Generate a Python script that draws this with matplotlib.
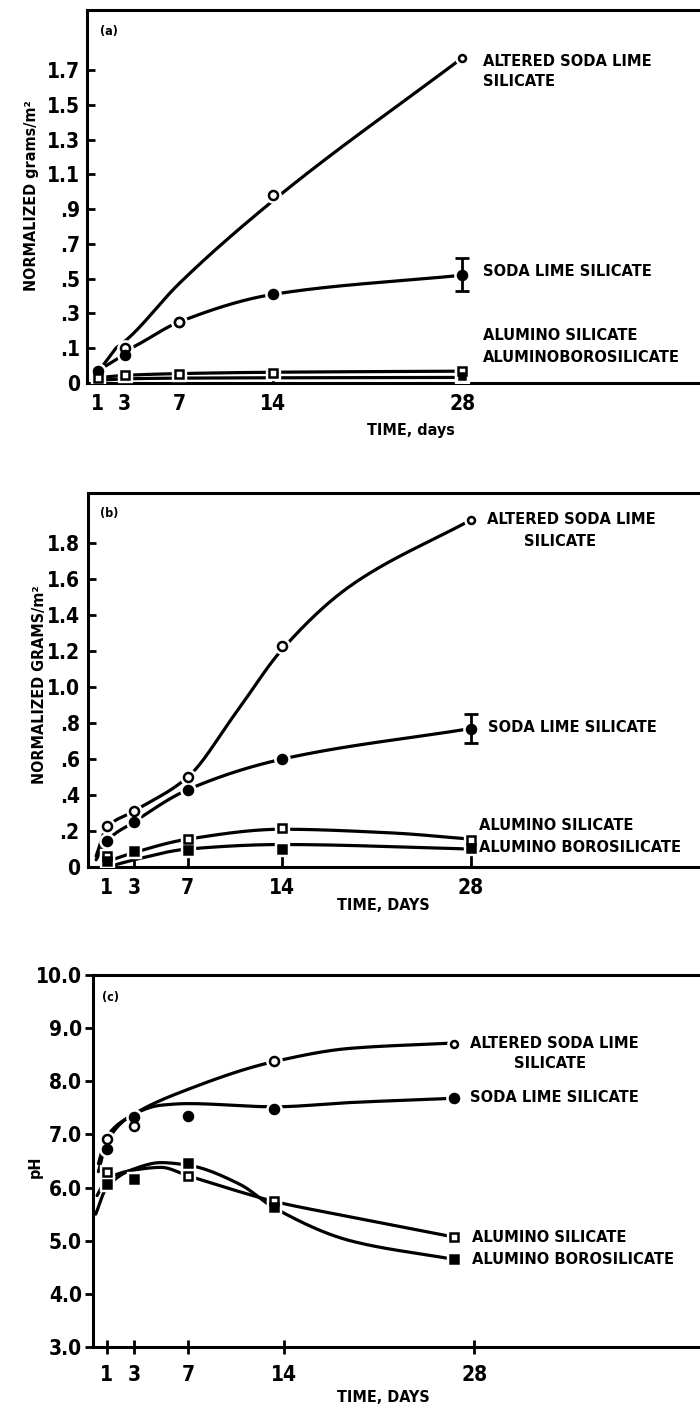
import numpy as np
import matplotlib
matplotlib.use("Agg")
import matplotlib.pyplot as plt
import matplotlib.font_manager as fm
from matplotlib.font_manager import FontProperties

# ---------------- data: panel (a) ----------------
days_a = [1, 3, 7, 14, 28]
altered_a = [np.nan, 0.10, 0.25, 0.98, 1.77]
soda_a = [0.035, 0.08, 0.25, 0.41, 0.52]
soda_a_err = [0.09, 0.10]
alsil_a = [0.015, 0.022, 0.025, 0.028, 0.035]
alboro_a = [np.nan, np.nan, np.nan, np.nan, 0.02]
altered_a_fit_x = [1, 3, 7, 14, 28]
altered_a_fit_y = [0.03, 0.14, 0.47, 0.95, 1.77]
soda_a_fit_x = [1, 3, 7, 14, 28]
soda_a_fit_y = [0.035, 0.085, 0.25, 0.41, 0.52]
alsil_a_fit_x = [1, 3, 7, 14, 28]
alsil_a_fit_y = [0.015, 0.022, 0.027, 0.031, 0.034]
alboro_a_fit_x = [1, 3, 7, 14, 28]
alboro_a_fit_y = [0.008, 0.012, 0.014, 0.015, 0.016]
yticks_a = [0, 0.1, 0.3, 0.5, 0.7, 0.9, 1.1, 1.3, 1.5, 1.7]
ylabels_a = ["0", ".1", ".3", ".5", ".7", ".9", "1.1", "1.3", "1.5", "1.7"]

# ---------------- data: panel (b) ----------------
days_b = [1, 3, 7, 14, 28]
altered_b = [0.23, 0.31, 0.50, 1.23, 1.93]
soda_b = [0.145, 0.25, 0.43, 0.60, 0.77]
soda_b_err = [0.08, 0.08]
alsil_b = [0.06, np.nan, 0.155, 0.215, 0.15]
alboro_b = [0.035, 0.09, 0.095, 0.10, 0.105]
altered_b_fit_x = [0.2, 1, 3, 7, 10.5, 14, 19, 28]
altered_b_fit_y = [0.06, 0.22, 0.31, 0.50, 0.85, 1.21, 1.56, 1.93]
soda_b_fit_x = [0.2, 1, 3, 7, 14, 28]
soda_b_fit_y = [0.04, 0.145, 0.25, 0.43, 0.60, 0.77]
alsil_b_fit_x = [1, 3, 7, 14, 22, 28]
alsil_b_fit_y = [0.03, 0.08, 0.155, 0.21, 0.19, 0.155]
alboro_b_fit_x = [1, 3, 7, 14, 28]
alboro_b_fit_y = [0.0, 0.04, 0.10, 0.125, 0.10]
yticks_b = [0, 0.2, 0.4, 0.6, 0.8, 1.0, 1.2, 1.4, 1.6, 1.8]
ylabels_b = ["0", ".2", ".4", ".6", ".8", "1.0", "1.2", "1.4", "1.6", "1.8"]

# ---------------- data: panel (c) ----------------
days_c = [1, 3, 7, 13.3, 26.5]
altered_c = [6.91, 7.15, np.nan, 8.38, 8.71]
soda_c = [6.72, 7.32, 7.34, 7.47, 7.68]
alsil_c = [6.29, np.nan, 6.21, 5.74, 5.07]
alboro_c = [6.06, 6.17, 6.47, 5.63, 4.65]
altered_c_fit_x = [0.4, 1, 3, 7, 13.3, 18.9, 26.5]
altered_c_fit_y = [6.45, 6.95, 7.38, 7.85, 8.37, 8.62, 8.72]
soda_c_fit_x = [0.4, 1, 3, 5, 7, 13.3, 18.9, 26.5]
soda_c_fit_y = [6.3, 6.85, 7.38, 7.55, 7.58, 7.52, 7.6, 7.68]
alsil_c_fit_x = [0.3, 1, 3, 5, 7, 10.8, 13.3, 18.9, 26.5]
alsil_c_fit_y = [5.85, 6.15, 6.33, 6.38, 6.22, 5.92, 5.74, 5.45, 5.07]
alboro_c_fit_x = [0.2, 1, 3, 5, 7, 10.8, 13.3, 18.9, 26.5]
alboro_c_fit_y = [5.5, 6.0, 6.35, 6.47, 6.42, 6.06, 5.62, 5.0, 4.65]
yticks_c = [3, 4, 5, 6, 7, 8, 9, 10]
ylabels_c = ["3.0", "4.0", "5.0", "6.0", "7.0", "8.0", "9.0", "10.0"]

xticks = [1, 3, 7, 14, 28]
xlabels = ["1", "3", "7", "14", "28"]


# ---------------- font: look for a narrow bold face ----------------
def find_narrow():
    best = None
    for f in fm.fontManager.ttflist:
        name = f.name.lower()
        fnl = f.fname.lower()
        narrow = (str(f.stretch) in ("condensed", "semi-condensed", "extra-condensed")
                  or "narrow" in name or "condensed" in name
                  or "condensed" in fnl or "narrow" in fnl)
        if not narrow:
            continue
        w = f.weight if isinstance(f.weight, int) else {"bold": 700, "normal": 400}.get(str(f.weight), 400)
        bold = w >= 600 or "bold" in fnl
        if "italic" in fnl or "oblique" in fnl or str(f.style) != "normal":
            continue
        if "extrabold" in fnl or "black" in fnl or "semibold" in fnl or "extracondensed" in fnl or "semicondensed" in fnl:
            score = 1
        else:
            score = 2
        score += 3 if bold else 0
        if best is None or score > best[0]:
            best = (score, f.fname)
    return best[1] if best else None


NARROW = find_narrow()


def FP(size):
    if NARROW:
        return FontProperties(fname=NARROW, size=size)
    return FontProperties(family="Liberation Sans", weight="bold", size=size * 0.85)


def pchip(x, y, n=300):
    x = np.asarray(x, float)
    y = np.asarray(y, float)
    h = np.diff(x)
    d = np.diff(y) / h
    m = np.zeros_like(y)
    m[0], m[-1] = d[0], d[-1]
    for k in range(1, len(x) - 1):
        if d[k - 1] * d[k] > 0:
            w1 = 2 * h[k] + h[k - 1]
            w2 = h[k] + 2 * h[k - 1]
            m[k] = (w1 + w2) / (w1 / d[k - 1] + w2 / d[k])
    xs = np.linspace(x[0], x[-1], n)
    i = np.clip(np.searchsorted(x, xs) - 1, 0, len(x) - 2)
    t = (xs - x[i]) / h[i]
    h00 = 2 * t**3 - 3 * t**2 + 1
    h10 = t**3 - 2 * t**2 + t
    h01 = -2 * t**3 + 3 * t**2
    h11 = t**3 - t**2
    ys = h00 * y[i] + h10 * h[i] * m[i] + h01 * y[i + 1] + h11 * h[i] * m[i + 1]
    return xs, ys


W, H = 700, 1410
fig = plt.figure(figsize=(W / 100, H / 100), dpi=100)

LABEL_SIZE = 11.8
AXLABEL_SIZE = 11.5
TICK_SIZE = 15


def add_axes(left, top, bottom):
    return fig.add_axes([left / W, 1 - bottom / H, 1 - left / W, (bottom - top) / H])


def ftext(x, y, s, size=LABEL_SIZE, **kw):
    kw.setdefault("va", "center")
    fig.text(x / W, 1 - y / H, s, fontproperties=FP(size), **kw)


LW = 2.3


def curve(ax, xk, yk):
    xs, ys = pchip(xk, yk)
    ax.plot(xs, ys, color="black", lw=LW, zorder=2, solid_capstyle="round")


def marks(ax, x, y, marker, filled, ms=6.5):
    ax.plot(x, y, ls="none", marker=marker, ms=ms + 4.5, mfc="white", mec="white", zorder=3)
    ax.plot(x, y, ls="none", marker=marker, ms=ms, mfc="black" if filled else "white",
            mec="black", mew=1.8, zorder=4)


def style(ax, xlim, ylim, yticks, ylabels, ydir, ypad, xdir, xlen):
    ax.set_xlim(*xlim)
    ax.set_ylim(*ylim)
    ax.spines["right"].set_visible(False)
    for s in ("left", "bottom", "top"):
        ax.spines[s].set_linewidth(2.2)
    ax.set_yticks(yticks)
    ax.set_yticklabels(ylabels)
    ax.set_xticks(xticks)
    ax.set_xticklabels(xlabels)
    ax.yaxis.set_minor_locator(matplotlib.ticker.NullLocator())
    ax.tick_params(axis="y", direction=ydir, length=6, width=2, pad=ypad)
    ax.tick_params(axis="x", direction=xdir, length=xlen, width=2, pad=8)
    for lab in ax.get_xticklabels() + ax.get_yticklabels():
        lab.set_fontproperties(FP(TICK_SIZE))


# ---------------- panel (a) ----------------
axa = add_axes(87, 10, 383)


def fwd(v):
    v = np.asarray(v, float)
    return np.where(v < 0.1, 2 * v, v + 0.1)


def inv(u):
    u = np.asarray(u, float)
    return np.where(u < 0.2, u / 2, u - 0.1)


axa.set_yscale("function", functions=(fwd, inv))
curve(axa, altered_a_fit_x, altered_a_fit_y)
curve(axa, soda_a_fit_x, soda_a_fit_y)
curve(axa, alsil_a_fit_x, alsil_a_fit_y)
curve(axa, alboro_a_fit_x, alboro_a_fit_y)
marks(axa, days_a[:-1], altered_a[:-1], "o", False)
marks(axa, days_a[-1:], altered_a[-1:], "o", False, ms=5)
marks(axa, days_a[:2] + days_a[3:], soda_a[:2] + soda_a[3:], "o", True)
marks(axa, days_a[2:3], soda_a[2:3], "o", False)
marks(axa, days_a, alsil_a, "s", False, ms=5.5)
marks(axa, days_a, alboro_a, "s", True, ms=5)
axa.errorbar([days_a[-1]], [soda_a[-1]], yerr=[[soda_a_err[0]], [soda_a_err[1]]],
             fmt="none", ecolor="black", elinewidth=2, capsize=5, capthick=2, zorder=5)
style(axa, (0.2, 45.6), (0, 2.045), yticks_a, ylabels_a, "in", 5, "in", 6)

ftext(100, 32, "(a)", size=9)
ftext(483, 62, "ALTERED SODA LIME")
ftext(483, 82, "SILICATE")
ftext(483, 272, "SODA LIME SILICATE")
ftext(483, 335, "ALUMINO SILICATE")
ftext(483, 358, "ALUMINOBOROSILICATE")
ftext(411, 430, "TIME, days", size=AXLABEL_SIZE, ha="center")
ftext(32, 196, "NORMALIZED grams/m\u00b2", size=AXLABEL_SIZE, rotation=90, ha="center")

# ---------------- panel (b) ----------------
axb = add_axes(88, 493, 867)
curve(axb, altered_b_fit_x, altered_b_fit_y)
curve(axb, soda_b_fit_x, soda_b_fit_y)
curve(axb, alsil_b_fit_x, alsil_b_fit_y)
curve(axb, alboro_b_fit_x, alboro_b_fit_y)
marks(axb, days_b[:-1], altered_b[:-1], "o", False)
marks(axb, days_b[-1:], altered_b[-1:], "o", False, ms=5)
marks(axb, days_b, soda_b, "o", True)
marks(axb, days_b, alsil_b, "s", False, ms=6)
marks(axb, days_b, alboro_b, "s", True, ms=6)
axb.errorbar([days_b[-1]], [soda_b[-1]], yerr=[[soda_b_err[0]], [soda_b_err[1]]],
             fmt="none", ecolor="black", elinewidth=2, capsize=5, capthick=2, zorder=5)
style(axb, (-0.4, 45.0), (0, 2.08), yticks_b, ylabels_b, "in", 6, "in", 14)

ftext(100, 513, "(b)", size=9)
ftext(487, 520, "ALTERED SODA LIME")
ftext(560, 542, "SILICATE", ha="center")
ftext(488, 728, "SODA LIME SILICATE")
ftext(479, 825, "ALUMINO SILICATE")
ftext(479, 848, "ALUMINO BOROSILICATE")
ftext(383, 905, "TIME, DAYS", size=AXLABEL_SIZE, ha="center")
ftext(40, 685, "NORMALIZED GRAMS/m\u00b2", size=AXLABEL_SIZE, rotation=90, ha="center")

# ---------------- panel (c) ----------------
axc = add_axes(93, 975, 1347)
curve(axc, altered_c_fit_x, altered_c_fit_y)
curve(axc, soda_c_fit_x, soda_c_fit_y)
curve(axc, alsil_c_fit_x, alsil_c_fit_y)
curve(axc, alboro_c_fit_x, alboro_c_fit_y)
marks(axc, days_c[:-1], altered_c[:-1], "o", False)
marks(axc, days_c[-1:], altered_c[-1:], "o", False, ms=5)
marks(axc, days_c, soda_c, "o", True)
marks(axc, days_c, alsil_c, "s", False, ms=6)
marks(axc, days_c, alboro_c, "s", True, ms=6)
style(axc, (0, 44.6), (3, 10), yticks_c, ylabels_c, "out", 2, "inout", 10)

ftext(102, 997, "(c)", size=9)
ftext(470, 1043, "ALTERED SODA LIME")
ftext(550, 1063, "SILICATE", ha="center")
ftext(470, 1098, "SODA LIME SILICATE")
ftext(472, 1237, "ALUMINO SILICATE")
ftext(472, 1260, "ALUMINO BOROSILICATE")
ftext(383, 1397, "TIME, DAYS", size=AXLABEL_SIZE, ha="center")
ftext(35, 1167, "pH", size=AXLABEL_SIZE, rotation=90, ha="center")

fig.savefig("out.png", dpi=100, facecolor="white")
